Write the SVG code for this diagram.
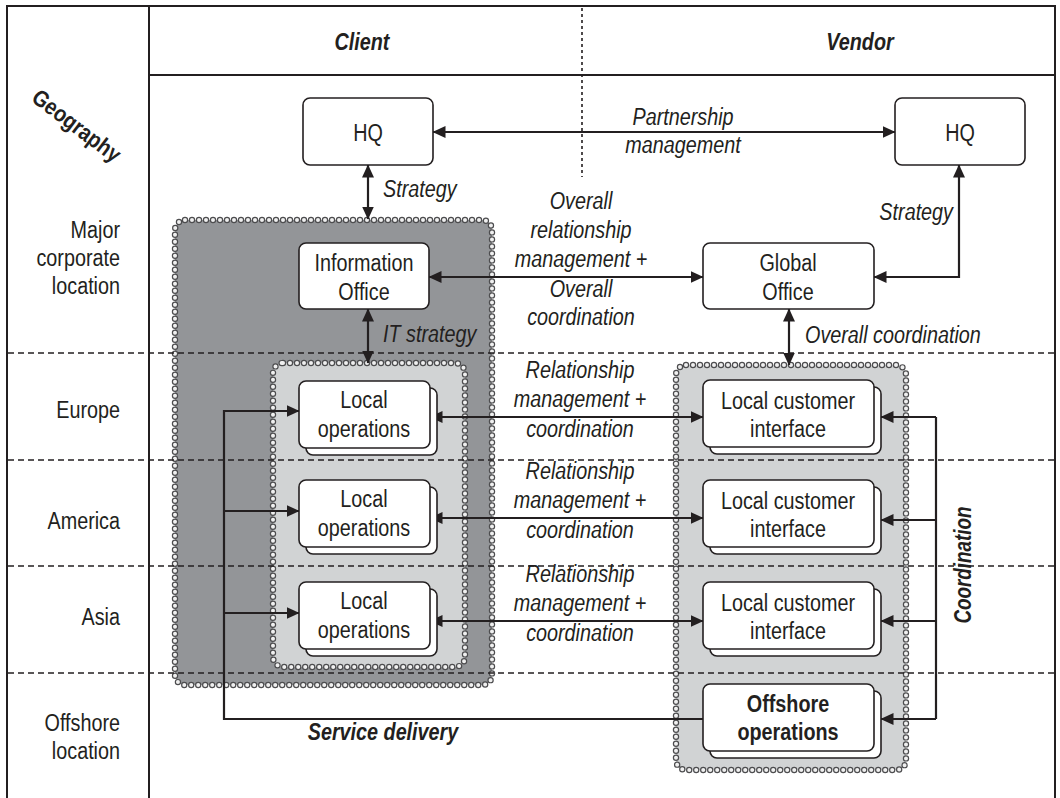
<svg xmlns="http://www.w3.org/2000/svg" width="1060" height="798" viewBox="0 0 1060 798">
  <style>
    text { font-family: "Liberation Sans", Arial, sans-serif; font-size: 23px; fill: #231f20; }
    .mid { text-anchor: middle; }
    .end { text-anchor: end; }
    .it { font-style: italic; }
    .bd { font-weight: bold; }
    .frame { stroke: #231f20; stroke-width: 2; fill: none; }
    .rowsep { stroke: #231f20; stroke-width: 1.6; stroke-dasharray: 6 4; fill: none; }
    .colsep { stroke: #231f20; stroke-width: 1.6; stroke-dasharray: 3 3; fill: none; }
    .dark { fill: #939598; }
    .light { fill: #d1d3d4; }
    .bead-o { fill: none; stroke: #4d4d4f; stroke-width: 6.4; stroke-linecap: round; stroke-dasharray: 0 7; }
    .bead-i { fill: none; stroke: #f0f0f0; stroke-width: 4; stroke-linecap: round; stroke-dasharray: 0 7; }
    .box { fill: #ffffff; stroke: #231f20; stroke-width: 1.6; }
    .conn { fill: none; stroke: #231f20; stroke-width: 2.2; }
    .both { marker-start: url(#ah); marker-end: url(#ah); }
    .one { marker-end: url(#ah); }
  </style>
  <defs>
    <marker id="ah" viewBox="0 0 13 12" refX="12.5" refY="6" markerWidth="13" markerHeight="12" markerUnits="userSpaceOnUse" orient="auto-start-reverse">
      <path d="M0,0 L13,6 L0,12 z" fill="#231f20"/>
    </marker>
  </defs>

  <rect width="1060" height="798" fill="#ffffff"/>

  <!-- table frame -->
  <g id="frame">
    <path class="frame" d="M7,798 V6 H1055 V798"/>
    <path class="frame" d="M149,6 V798"/>
    <path class="frame" d="M149,75 H1055"/>
    <path class="colsep" d="M582,8 V177"/>
  </g>

  <!-- shaded groupings -->
  <g id="client-region">
    <rect class="dark" x="175" y="220" width="317" height="465" rx="10"/>
    <rect class="bead-o" x="175" y="220" width="317" height="465" rx="10"/>
    <rect class="bead-i" x="175" y="220" width="317" height="465" rx="10"/>
  </g>
  <g id="client-local-region">
    <rect class="light" x="273" y="363" width="192" height="304" rx="10"/>
    <rect class="bead-o" x="273" y="363" width="192" height="304" rx="10"/>
    <rect class="bead-i" x="273" y="363" width="192" height="304" rx="10"/>
  </g>
  <g id="vendor-local-region">
    <rect class="light" x="676" y="365" width="230" height="405" rx="10"/>
    <rect class="bead-o" x="676" y="365" width="230" height="405" rx="10"/>
    <rect class="bead-i" x="676" y="365" width="230" height="405" rx="10"/>
  </g>

  <!-- row separators -->
  <g id="rows">
    <path class="rowsep" d="M8,353 H1054"/>
    <path class="rowsep" d="M8,460 H1054"/>
    <path class="rowsep" d="M8,566 H1054"/>
    <path class="rowsep" d="M8,673 H1054"/>
  </g>

  <!-- headers and row labels -->
  <g id="headers">
    <text class="mid bd it" transform="translate(362 50) scale(.86 1)">Client</text>
    <text class="mid bd it" transform="translate(860 50) scale(.86 1)">Vendor</text>
    <text class="mid bd" transform="translate(72 132) rotate(37) scale(.86 1)">Geography</text>
  </g>
  <g id="row-labels">
    <text class="end" transform="translate(120 238) scale(.86 1)">Major</text>
    <text class="end" transform="translate(120 266) scale(.86 1)">corporate</text>
    <text class="end" transform="translate(120 294) scale(.86 1)">location</text>
    <text class="end" transform="translate(120 418) scale(.86 1)">Europe</text>
    <text class="end" transform="translate(120 529) scale(.86 1)">America</text>
    <text class="end" transform="translate(120 625) scale(.86 1)">Asia</text>
    <text class="end" transform="translate(120 731) scale(.86 1)">Offshore</text>
    <text class="end" transform="translate(120 759) scale(.86 1)">location</text>
  </g>

  <!-- connectors -->
  <g id="connectors">
    <path class="conn both" d="M433,132 H895"/>
    <path class="conn both" d="M368,165 V219"/>
    <path class="conn both" d="M874,277 H959 V165"/>
    <path class="conn both" d="M429,277 H703"/>
    <path class="conn both" d="M368,309 V363"/>
    <path class="conn both" d="M789,309 V365"/>
    <path class="conn both" d="M430,417 H703"/>
    <path class="conn both" d="M430,518 H703"/>
    <path class="conn both" d="M430,621 H703"/>
    <!-- service delivery -->
    <path class="conn one" d="M703,719 H224 V411 H299"/>
    <path class="conn one" d="M224,511 H299"/>
    <path class="conn one" d="M224,613 H299"/>
    <!-- coordination -->
    <path class="conn" d="M936,417 V719"/>
    <path class="conn one" d="M936,417 H881"/>
    <path class="conn one" d="M936,520 H881"/>
    <path class="conn one" d="M936,621 H881"/>
    <path class="conn one" d="M936,719 H881"/>
  </g>

  <!-- connector labels -->
  <g id="connector-labels">
    <text class="mid it" transform="translate(683 125) scale(.86 1)">Partnership</text>
    <text class="mid it" transform="translate(683 153) scale(.86 1)">management</text>
    <text class="it" transform="translate(383 197) scale(.86 1)">Strategy</text>
    <text class="end it" transform="translate(953 220) scale(.86 1)">Strategy</text>
    <text class="mid it" transform="translate(581 209) scale(.86 1)">Overall</text>
    <text class="mid it" transform="translate(581 238) scale(.86 1)">relationship</text>
    <text class="mid it" transform="translate(581 267) scale(.86 1)">management +</text>
    <text class="mid it" transform="translate(581 297) scale(.86 1)">Overall</text>
    <text class="mid it" transform="translate(581 325) scale(.86 1)">coordination</text>
    <text class="it" transform="translate(383 342) scale(.86 1)">IT strategy</text>
    <text class="it" transform="translate(805 343) scale(.86 1)">Overall coordination</text>
    <text class="mid it" transform="translate(580 378) scale(.86 1)">Relationship</text>
    <text class="mid it" transform="translate(580 407) scale(.86 1)">management +</text>
    <text class="mid it" transform="translate(580 437) scale(.86 1)">coordination</text>
    <text class="mid it" transform="translate(580 479) scale(.86 1)">Relationship</text>
    <text class="mid it" transform="translate(580 508) scale(.86 1)">management +</text>
    <text class="mid it" transform="translate(580 538) scale(.86 1)">coordination</text>
    <text class="mid it" transform="translate(580 582) scale(.86 1)">Relationship</text>
    <text class="mid it" transform="translate(580 611) scale(.86 1)">management +</text>
    <text class="mid it" transform="translate(580 641) scale(.86 1)">coordination</text>
    <text class="mid bd it" transform="translate(383 740) scale(.86 1)">Service delivery</text>
    <text class="mid bd it" transform="translate(971 565) rotate(-90) scale(.82 1)">Coordination</text>
  </g>

  <!-- nodes -->
  <g id="client-hq">
    <rect class="box" x="303" y="98" width="130" height="67" rx="7"/>
    <text class="mid" transform="translate(368 141) scale(.86 1)">HQ</text>
  </g>
  <g id="vendor-hq">
    <rect class="box" x="895" y="98" width="130" height="67" rx="7"/>
    <text class="mid" transform="translate(960 141) scale(.86 1)">HQ</text>
  </g>
  <g id="information-office">
    <rect class="box" x="299" y="243" width="130" height="66" rx="7"/>
    <text class="mid" transform="translate(364 271) scale(.86 1)">Information</text>
    <text class="mid" transform="translate(364 300) scale(.86 1)">Office</text>
  </g>
  <g id="global-office">
    <rect class="box" x="703" y="243" width="171" height="66" rx="7"/>
    <text class="mid" transform="translate(788 271) scale(.86 1)">Global</text>
    <text class="mid" transform="translate(788 300) scale(.86 1)">Office</text>
  </g>

  <g id="local-ops-europe">
    <rect class="box" x="306" y="388" width="131" height="67" rx="7"/>
    <rect class="box" x="299" y="381" width="131" height="67" rx="7"/>
    <text class="mid" transform="translate(364 408) scale(.86 1)">Local</text>
    <text class="mid" transform="translate(364 437) scale(.86 1)">operations</text>
  </g>
  <g id="local-ops-america">
    <rect class="box" x="306" y="487" width="131" height="67" rx="7"/>
    <rect class="box" x="299" y="480" width="131" height="67" rx="7"/>
    <text class="mid" transform="translate(364 507) scale(.86 1)">Local</text>
    <text class="mid" transform="translate(364 536) scale(.86 1)">operations</text>
  </g>
  <g id="local-ops-asia">
    <rect class="box" x="306" y="589" width="131" height="67" rx="7"/>
    <rect class="box" x="299" y="582" width="131" height="67" rx="7"/>
    <text class="mid" transform="translate(364 609) scale(.86 1)">Local</text>
    <text class="mid" transform="translate(364 638) scale(.86 1)">operations</text>
  </g>

  <g id="customer-interface-europe">
    <rect class="box" x="710" y="387" width="171" height="67" rx="7"/>
    <rect class="box" x="703" y="380" width="171" height="67" rx="7"/>
    <text class="mid" transform="translate(788 409) scale(.86 1)">Local customer</text>
    <text class="mid" transform="translate(788 437) scale(.86 1)">interface</text>
  </g>
  <g id="customer-interface-america">
    <rect class="box" x="710" y="487" width="171" height="67" rx="7"/>
    <rect class="box" x="703" y="480" width="171" height="67" rx="7"/>
    <text class="mid" transform="translate(788 509) scale(.86 1)">Local customer</text>
    <text class="mid" transform="translate(788 537) scale(.86 1)">interface</text>
  </g>
  <g id="customer-interface-asia">
    <rect class="box" x="710" y="589" width="171" height="67" rx="7"/>
    <rect class="box" x="703" y="582" width="171" height="67" rx="7"/>
    <text class="mid" transform="translate(788 611) scale(.86 1)">Local customer</text>
    <text class="mid" transform="translate(788 639) scale(.86 1)">interface</text>
  </g>
  <g id="offshore-operations">
    <rect class="box" x="710" y="691" width="171" height="67" rx="7"/>
    <rect class="box" x="703" y="684" width="171" height="67" rx="7"/>
    <text class="mid bd" transform="translate(788 712) scale(.86 1)">Offshore</text>
    <text class="mid bd" transform="translate(788 740) scale(.86 1)">operations</text>
  </g>
</svg>
